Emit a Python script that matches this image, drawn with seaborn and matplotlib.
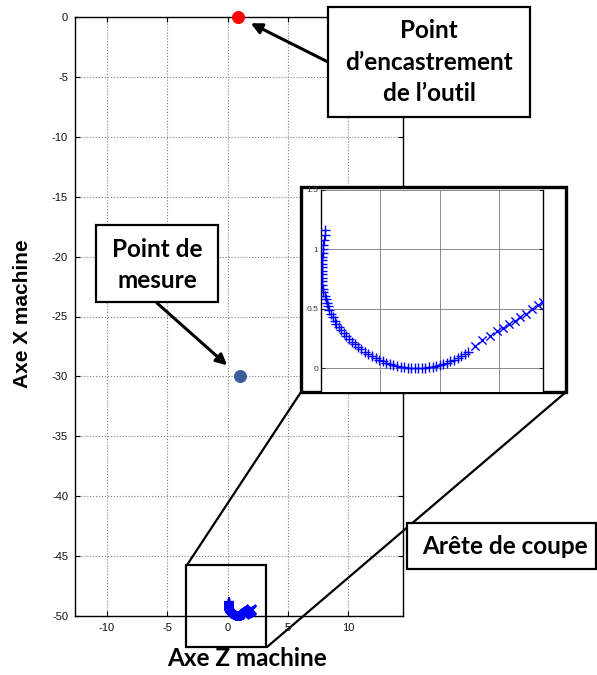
import matplotlib
matplotlib.use("Agg")
import matplotlib.pyplot as plt
from matplotlib.patches import Rectangle
from matplotlib.lines import Line2D
import seaborn as sns
import pandas as pd

# ---- data -----------------------------------------------------------------
# clamping point and measuring point (Z, X machine coordinates)
clamp_z, clamp_x = [0.9], [0.0]
measure_z, measure_x = [1.0], [-30.0]

# cutting edge profile, local coordinates (z, x) -- first part drawn with '+'
edge_plus_z = [0.03, 0.03, 0.025, 0.02, 0.02, 0.015, 0.01, 0.01, 0.005, 0.005,
               0.005, 0.005, 0.005, 0.008, 0.01, 0.015, 0.02, 0.03, 0.04, 0.05,
               0.06, 0.07, 0.085, 0.10, 0.115, 0.13, 0.15, 0.17, 0.19, 0.21,
               0.235, 0.26, 0.285, 0.31, 0.34, 0.37, 0.40, 0.43, 0.46, 0.49,
               0.52, 0.55, 0.58, 0.61, 0.64, 0.67, 0.70, 0.73, 0.76, 0.79,
               0.82, 0.85, 0.88, 0.91, 0.94, 0.97, 1.00, 1.03, 1.06, 1.09,
               1.12, 1.15, 1.18, 1.21, 1.24]
edge_plus_x = [1.16, 1.12, 1.08, 1.04, 1.00, 0.97, 0.94, 0.91, 0.88, 0.85,
               0.82, 0.79, 0.76, 0.73, 0.70, 0.67, 0.64, 0.61, 0.58, 0.55,
               0.52, 0.49, 0.46, 0.43, 0.40, 0.37, 0.345, 0.32, 0.295, 0.27,
               0.245, 0.22, 0.20, 0.18, 0.16, 0.14, 0.12, 0.10, 0.085, 0.07,
               0.058, 0.046, 0.036, 0.027, 0.02, 0.013, 0.008, 0.004, 0.002, 0.0,
               0.0, 0.001, 0.003, 0.007, 0.012, 0.018, 0.025, 0.034, 0.045, 0.058,
               0.072, 0.088, 0.105, 0.123, 0.14]
# second part drawn with 'x'
edge_cross_z = [1.30, 1.36, 1.42, 1.48, 1.53, 1.58, 1.63, 1.68, 1.73, 1.78, 1.83, 1.87]
edge_cross_x = [0.19, 0.235, 0.27, 0.31, 0.34, 0.37, 0.40, 0.43, 0.46, 0.495, 0.53, 0.56]

# position of the cutting edge on the machine axes
edge_offset_z, edge_offset_x = 0.1, -50.0

x_ticks = [-10, -5, 0, 5, 10]
y_ticks = [0, -5, -10, -15, -20, -25, -30, -35, -40, -45, -50]
inset_y_ticks = [0, 0.5, 1, 1.5]
inset_x_ticks = [0, 0.5, 1, 1.5]

# ---- figure ---------------------------------------------------------------
sns.set_style("white")
plt.rcParams["text.color"] = "black"
W, H = 597, 675
fig = plt.figure(figsize=(W / 100, H / 100), dpi=100)


def fx(px):
    return px / W


def fy(py):
    return 1 - py / H


tick_font = dict(family="Liberation Sans", size=8)
callout_font = dict(family=["Lato", "DejaVu Sans"], weight="bold", size=17.5,
                    color="black")

ax = fig.add_axes([fx(75), fy(616), fx(403) - fx(75), fy(17) - fy(616)])
ax.set_zorder(0)

plus_df = pd.DataFrame({"z": [z + edge_offset_z for z in edge_plus_z],
                        "x": [x + edge_offset_x for x in edge_plus_x]})
cross_df = pd.DataFrame({"z": [z + edge_offset_z for z in edge_cross_z],
                         "x": [x + edge_offset_x for x in edge_cross_x]})
sns.scatterplot(data=plus_df, x="z", y="x", marker="+", s=55, color="#0000ff",
                linewidth=1.6, ax=ax, clip_on=False, zorder=3)
sns.scatterplot(data=cross_df, x="z", y="x", marker="x", s=45, color="#0000ff",
                linewidth=1.6, ax=ax, clip_on=False, zorder=3)
sns.scatterplot(x=clamp_z, y=clamp_x, s=75, color="#ff0000", edgecolor="#ff0000",
                ax=ax, clip_on=False, zorder=4)
sns.scatterplot(x=measure_z, y=measure_x, s=75, color="#3a5d9c", edgecolor="#3a5d9c",
                ax=ax, clip_on=False, zorder=4)

ax.set_xlim(-12.65, 14.55)
ax.set_ylim(-50, 0)
ax.set_xticks(x_ticks)
ax.set_yticks(y_ticks)
ax.set_xticklabels([str(t) for t in x_ticks], fontdict=tick_font)
ax.set_yticklabels([str(t) for t in y_ticks], fontdict=tick_font)
ax.grid(True, linestyle=":", color="#808080", linewidth=0.8)
ax.tick_params(direction="in", length=3.5, width=0.8, top=True, right=True,
               bottom=True, left=True, pad=5, colors="black", labelcolor="#111111")
for s in ax.spines.values():
    s.set_color("black")
    s.set_linewidth(1.0)
ax.set_xlabel("")
ax.set_ylabel("")

# axis titles
fig.text(fx(247), fy(659), "Axe Z machine", ha="center", va="center", **callout_font)
fig.text(fx(23), fy(314), "Axe X machine", ha="center", va="center", rotation=90,
         family="Liberation Sans", weight="bold", size=15, color="black")

# zoom box around the cutting edge (data coordinates)
zoom_rect = Rectangle((-3.44, -52.6), 6.64, 6.85, fill=False, edgecolor="black",
                      linewidth=1.6, clip_on=False, zorder=5)
ax.add_patch(zoom_rect)

# connector lines from the zoom box to the inset frame
for (x0, y0), (x1, y1) in [((187, 565), (301, 392)), ((267, 647), (566, 392))]:
    fig.add_artist(Line2D([fx(x0), fx(x1)], [fy(y0), fy(y1)], color="black",
                          linewidth=1.6, transform=fig.transFigure, zorder=1.5))

# inset frame
fig.add_artist(Rectangle((fx(301), fy(392)), fx(566) - fx(301), fy(187) - fy(392),
                         facecolor="white", edgecolor="black", linewidth=2.4,
                         transform=fig.transFigure, zorder=2))

# inset: zoomed cutting edge
axi = fig.add_axes([fx(321), fy(392), fx(543) - fx(321), fy(190) - fy(392)])
axi.set_zorder(3)
sns.scatterplot(x=edge_plus_z, y=edge_plus_x, marker="+", s=55, color="#0000ff",
                linewidth=1.0, ax=axi, zorder=3)
sns.scatterplot(x=edge_cross_z, y=edge_cross_x, marker="x", s=35, color="#0000ff",
                linewidth=1.0, ax=axi, zorder=3)
axi.set_xlim(0, 1.87)
axi.set_ylim(-0.2, 1.5)
axi.set_xticks(inset_x_ticks)
axi.set_xticklabels([])
axi.set_yticks(inset_y_ticks)
axi.set_yticklabels([f"{t:g}" for t in inset_y_ticks], family="Liberation Sans",
                    size=6, color="#333333")
axi.grid(True, linestyle="-", color="#8a8a8a", linewidth=0.7)
axi.tick_params(direction="in", length=3, width=0.8, left=True, right=True,
                bottom=False, top=False, pad=2)
for name, s in axi.spines.items():
    s.set_color("black")
    s.set_linewidth(1.0)
axi.spines["top"].set_visible(False)
axi.spines["bottom"].set_visible(False)


# callout boxes
def callout(x0, y0, x1, y1, text, cx, cy, linespacing=1.45):
    fig.add_artist(Rectangle((fx(x0), fy(y1)), fx(x1) - fx(x0), fy(y0) - fy(y1),
                             facecolor="white", edgecolor="black", linewidth=1.6,
                             transform=fig.transFigure, zorder=6))
    fig.text(fx(cx), fy(cy), text, ha="center", va="center", zorder=7,
             linespacing=linespacing, **callout_font)


callout(328, 7, 530, 117, "Point\nd\u2019encastrement\nde l\u2019outil", 429, 62)
callout(96, 225, 218, 302, "Point de\nmesure", 157, 265)
callout(407, 523, 596, 569, "Ar\u00eate de coupe", 505, 546)

# arrows to the two points
arrow = dict(arrowstyle="-|>", color="black", lw=2.2, mutation_scale=16,
             shrinkA=0)
ax.annotate("", xy=(clamp_z[0], clamp_x[0]), xytext=(fx(328), fy(62)),
            textcoords="figure fraction",
            arrowprops=dict(arrow, shrinkB=10), annotation_clip=False, zorder=5)
ax.annotate("", xy=(measure_z[0], measure_x[0]), xytext=(fx(157), fy(303)),
            textcoords="figure fraction",
            arrowprops=dict(arrow, shrinkB=12), annotation_clip=False, zorder=5)

fig.savefig("out.png", dpi=100)
